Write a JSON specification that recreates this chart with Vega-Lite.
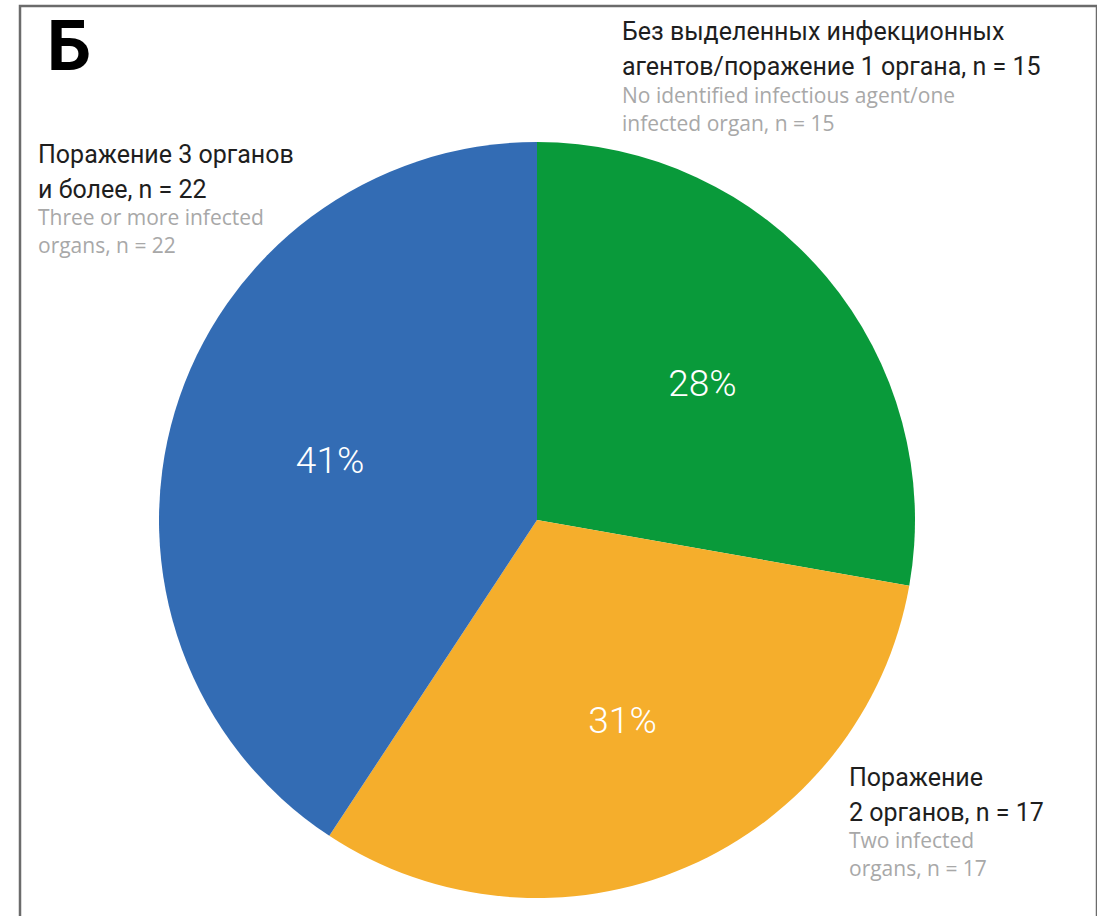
{
  "$schema": "https://vega.github.io/schema/vega-lite/v6.json",
  "width": 1077,
  "height": 1028,
  "padding": {"left": 20, "top": 6, "right": 0, "bottom": 0},
  "autosize": {"type": "none"},
  "background": "white",
  "config": {"view": {"stroke": null}},
  "data": {"values": [
    {"group": "one", "n": 15, "pct": "28%", "order": 1, "ru": "Без выделенных инфекционных\nагентов/поражение 1 органа, n = 15", "en": "No identified infectious agent/one\ninfected organ, n = 15"},
    {"group": "two", "n": 17, "pct": "31%", "order": 2, "ru": "Поражение\n2 органов, n = 17", "en": "Two infected\norgans, n = 17"},
    {"group": "three", "n": 22, "pct": "41%", "order": 3, "ru": "Поражение 3 органов\nи более, n = 22", "en": "Three or more infected\norgans, n = 22"}
  ]},
  "layer": [
    {
      "data": {"values": [{"frame": "panel", "label": "Б"}]},
      "mark": {"type": "rect", "fill": "transparent", "stroke": "#6b6b6b", "strokeWidth": 2.5},
      "encoding": {}
    },
    {
      "data": {"values": [{"frame": "panel", "label": "Б"}]},
      "mark": {"type": "text", "align": "left", "baseline": "alphabetic", "dx": -511.5, "dy": -450, "font": "Roboto", "fontSize": 70, "fontWeight": "bold", "fill": "#000000"},
      "encoding": {"text": {"field": "label"}}
    },
    {
      "mark": {"type": "arc", "radius": 378, "xOffset": -21.5},
      "encoding": {
        "theta": {"field": "n", "type": "quantitative", "stack": true},
        "order": {"field": "order", "type": "quantitative"},
        "color": {"field": "group", "type": "nominal", "scale": {"domain": ["one", "two", "three"], "range": ["#099a3a", "#f5ae2c", "#336cb4"]}, "legend": null}
      }
    },
    {
      "mark": {"type": "text", "radius": 216, "xOffset": -21.5, "dy": 4, "font": "Roboto", "fontSize": 37, "fontWeight": 300, "fill": "#ffffff", "align": "center", "baseline": "middle"},
      "encoding": {
        "theta": {"field": "n", "type": "quantitative", "stack": true},
        "order": {"field": "order", "type": "quantitative"},
        "text": {"field": "pct"}
      }
    },
    {
      "transform": [{"filter": "datum.group === 'one'"}],
      "mark": {"type": "text", "lineBreak": "\n", "align": "left", "baseline": "alphabetic", "lineHeight": 35, "dx": 63.5, "dy": -480, "font": "Roboto", "fontSize": 25, "fill": "#1e1e1e"},
      "encoding": {"text": {"field": "ru"}}
    },
    {
      "transform": [{"filter": "datum.group === 'one'"}],
      "mark": {"type": "text", "lineBreak": "\n", "align": "left", "baseline": "alphabetic", "lineHeight": 28, "dx": 63.5, "dy": -417, "font": "Open Sans", "fontSize": 21, "fill": "#a8a8a8"},
      "encoding": {"text": {"field": "en"}}
    },
    {
      "transform": [{"filter": "datum.group === 'two'"}],
      "mark": {"type": "text", "lineBreak": "\n", "align": "left", "baseline": "alphabetic", "lineHeight": 35, "dx": 290.5, "dy": 266, "font": "Roboto", "fontSize": 25, "fill": "#1e1e1e"},
      "encoding": {"text": {"field": "ru"}}
    },
    {
      "transform": [{"filter": "datum.group === 'two'"}],
      "mark": {"type": "text", "lineBreak": "\n", "align": "left", "baseline": "alphabetic", "lineHeight": 28, "dx": 290.5, "dy": 328, "font": "Open Sans", "fontSize": 21, "fill": "#a8a8a8"},
      "encoding": {"text": {"field": "en"}}
    },
    {
      "transform": [{"filter": "datum.group === 'three'"}],
      "mark": {"type": "text", "lineBreak": "\n", "align": "left", "baseline": "alphabetic", "lineHeight": 35, "dx": -520.5, "dy": -357, "font": "Roboto", "fontSize": 25, "fill": "#1e1e1e"},
      "encoding": {"text": {"field": "ru"}}
    },
    {
      "transform": [{"filter": "datum.group === 'three'"}],
      "mark": {"type": "text", "lineBreak": "\n", "align": "left", "baseline": "alphabetic", "lineHeight": 28, "dx": -520.5, "dy": -295, "font": "Open Sans", "fontSize": 21, "fill": "#a8a8a8"},
      "encoding": {"text": {"field": "en"}}
    }
  ]
}
